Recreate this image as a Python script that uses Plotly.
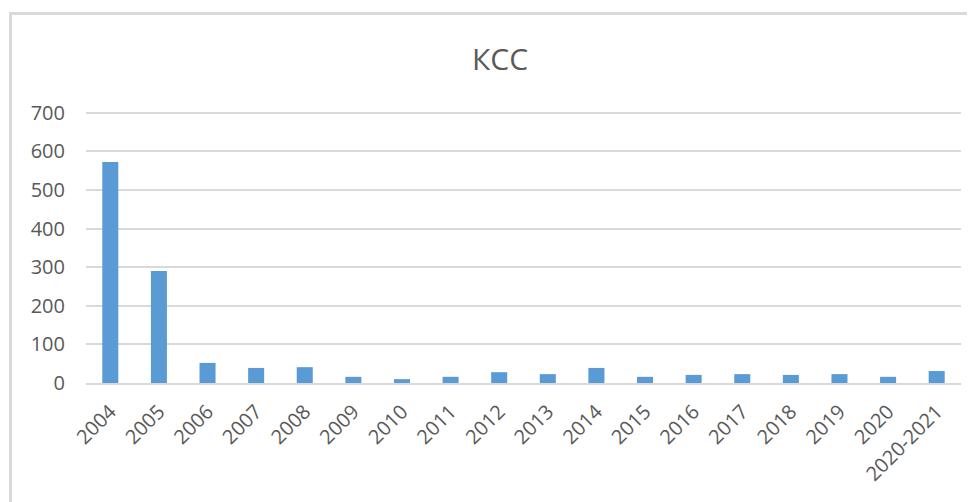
import plotly.graph_objects as go

W, H = 975, 502
# page body has an 8px margin, so everything is laid out 8px up/left
OFF = 8
M_L, M_R, M_T, M_B = 86 - OFF, 22, 103 - OFF, 127

years = ["2004", "2005", "2006", "2007", "2008", "2009", "2010", "2011", "2012",
         "2013", "2014", "2015", "2016", "2017", "2018", "2019", "2020", "2020-2021"]
values = [572, 290, 52, 39, 41, 16, 10, 16, 28, 23, 39, 16, 21, 23, 21, 23, 16, 31]
y_ticks = [0, 100, 200, 300, 400, 500, 600, 700]

TEXT = "#595959"
GRID = "#d9d9d9"
FONT = "Open Sans"

plot_w = W - M_L - M_R
plot_h = H - M_T - M_B


def px_x(x):
    return (x - OFF - M_L) / plot_w


def px_y(y):
    return (H - M_B - (y - OFF)) / plot_h


fig = go.Figure()
fig.add_trace(go.Bar(x=years, y=values, marker_color="#5b9bd5", marker_line_width=0))

# chart frame (top + left edges visible, rest is cropped)
fig.add_shape(type="line", xref="paper", yref="paper",
              x0=px_x(10), x1=px_x(990), y0=px_y(13.5), y1=px_y(13.5),
              line=dict(color=GRID, width=3))
fig.add_shape(type="line", xref="paper", yref="paper",
              x0=px_x(10.5), x1=px_x(10.5), y0=px_y(12), y1=px_y(520),
              line=dict(color=GRID, width=3))

fig.update_layout(
    width=W, height=H,
    paper_bgcolor="white", plot_bgcolor="white",
    margin=dict(l=M_L, r=M_R, t=M_T, b=M_B),
    font=dict(family=FONT, color=TEXT, size=20),
    title=dict(text="КСС", x=(500 - OFF) / W, xanchor="center", y=1 - (59 - OFF) / H,
               yanchor="middle", font=dict(family=FONT, size=30, color=TEXT)),
    bargap=0.67,
    showlegend=False,
    xaxis=dict(tickangle=-45, showgrid=False, showline=True, linecolor=GRID, linewidth=2,
               ticks="", ticklabelstandoff=7, tickfont=dict(size=20, color=TEXT)),
    yaxis=dict(range=[0, 725], tickvals=y_ticks, showgrid=True, gridcolor=GRID, gridwidth=2,
               zeroline=False, showline=False, ticks="", ticklabelstandoff=20,
               tickfont=dict(size=20, color=TEXT)),
)

fig.write_html("out.html")
